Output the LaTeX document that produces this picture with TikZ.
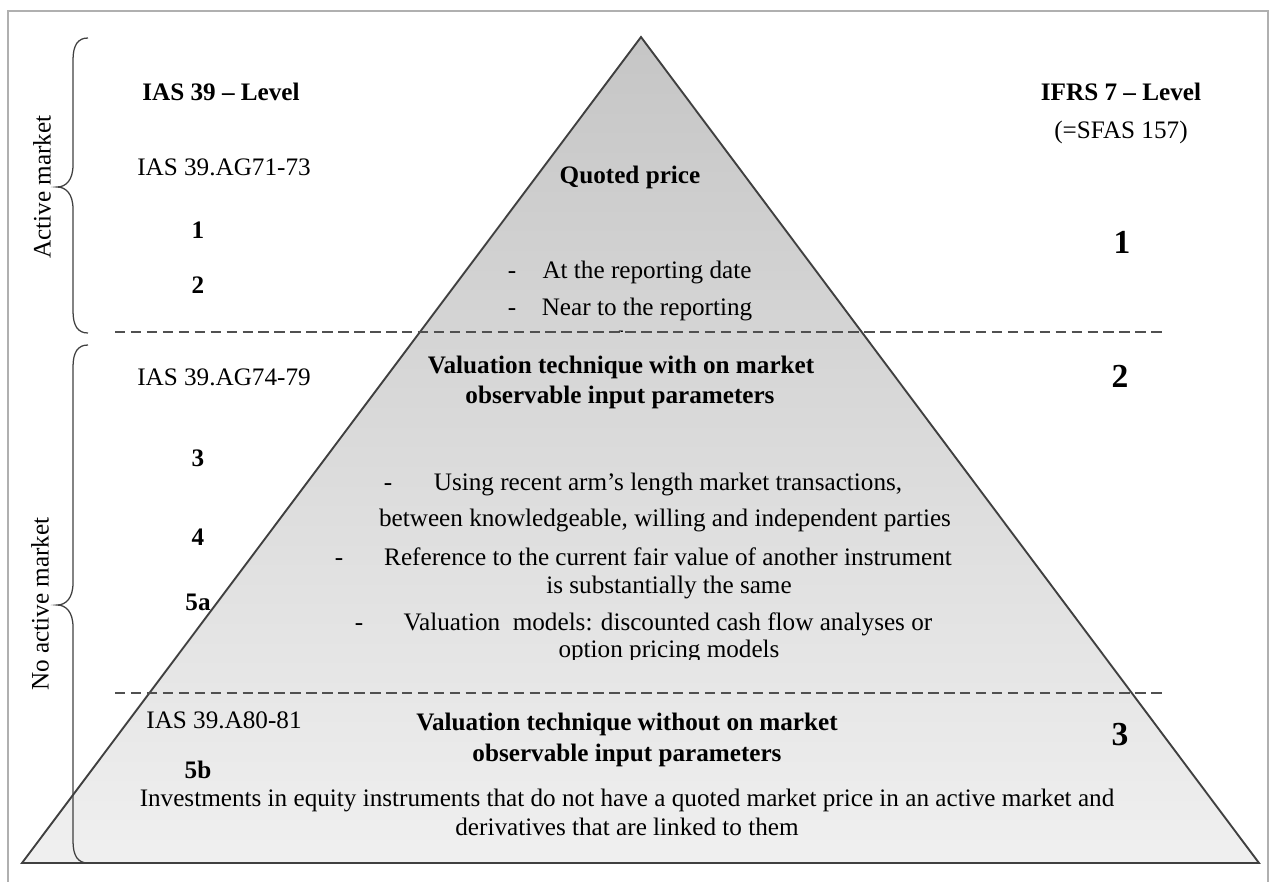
\documentclass[tikz,border=0pt]{standalone}
\usepackage{fontspec}
\setmainfont{Liberation Serif}
\usepackage{tikz}
\definecolor{edgegray}{HTML}{404040}
\definecolor{dashgray}{HTML}{505050}
\definecolor{framegray}{HTML}{B0B0B0}

\begin{document}
\begin{tikzpicture}[
    x=0.01675cm, y=-0.01675cm,
    txt/.style={inner sep=0pt, anchor=base, font=\fontsize{12}{14.4}\selectfont},
    hd/.style={txt, font=\fontsize{12}{14.4}\selectfont\bfseries},
    lvl/.style={txt, font=\fontsize{16}{19}\selectfont\bfseries},
    side/.style={inner sep=0pt, rotate=90, font=\fontsize{12}{14.4}\selectfont},
    sep/.style={dashgray, line width=1pt, dash pattern=on 5pt off 2.6pt},
    brc/.style={edgegray, line width=0.6pt}
  ]
    \useasboundingbox (0,0) rectangle (1270,882);
    \draw[framegray, line width=0.9pt] (8,890) -- (8,11) -- (1268,11) -- (1268,890);

    % pyramid
    \coordinate (apex) at (641,37);
    \coordinate (bl) at (22,863);
    \coordinate (br) at (1259,863);
    \shade[top color=gray!45, bottom color=gray!12] (apex) -- (bl) -- (br) -- cycle;
    \draw[edgegray, line width=0.9pt, line join=miter] (apex) -- (bl) -- (br) -- cycle;

    % level separators
    \coordinate (s1w) at (115,332);
    \coordinate (s1e) at (1165,332);
    \coordinate (s2w) at (115,693);
    \coordinate (s2e) at (1165,693);
    \draw[sep] (s1w) -- (s1e);
    \draw[sep] (s2w) -- (s2e);

    % market braces
    \draw[brc] (88,38) .. controls (78,38) and (73,45) .. (73,60) -- (73,165)
      .. controls (73,180) and (66,187) .. (57,187)
      .. controls (66,187) and (73,194) .. (73,209) -- (73,311)
      .. controls (73,326) and (78,333) .. (88,333);
    \draw[brc] (88,345) .. controls (78,345) and (73,352) .. (73,367) -- (73,583)
      .. controls (73,598) and (66,605) .. (57,605)
      .. controls (66,605) and (73,612) .. (73,627) -- (73,841)
      .. controls (73,856) and (78,863) .. (88,863);
    \node[side] (act) at (42,187) {Active market};
    \node[side] (noact) at (40,604) {No active market};

    % IAS 39 column
    \node[hd] (ias) at (221,100) {IAS 39 – Level};
    \node[txt] (ag71) at (224,175) {IAS 39.AG71-73};
    \node[hd] (n1) at (198,238) {1};
    \node[hd] (n2) at (198,293) {2};
    \node[txt] (ag74) at (224,385) {IAS 39.AG74-79};
    \node[hd] (n3) at (198,466) {3};
    \node[hd] (n4) at (198,545) {4};
    \node[hd] (n5a) at (198,610) {5a};
    \node[txt] (a80) at (224,728) {IAS 39.A80-81};
    \node[hd] (n5b) at (198,778) {5b};

    % IFRS 7 column
    \node[hd] (ifrs) at (1121,100) {IFRS 7 – Level};
    \node[txt] (sfas) at (1121,138) {(=SFAS 157)};
    \node[lvl] (m1) at (1122,253) {1};
    \node[lvl] (m2) at (1120,387) {2};
    \node[lvl] (m3) at (1120,745) {3};

    % level 1
    \node[hd] (quoted) at (630,183) {Quoted price};
    \node[txt] (d11) at (512,278) {-};
    \node[txt] (q1) at (647,278) {At the reporting date};
    \node[txt] (d12) at (512,315) {-};
    \node[txt] (q2) at (647,315) {Near to the reporting};
    \begin{scope}
      \clip (0,0) rectangle (1270,331);
      \node[txt] (q2b) at (633,348) {date};
    \end{scope}

    % level 2
    \node[hd] (obs1) at (621,373) {Valuation technique with on market};
    \node[hd] (obs2) at (620,403) {observable input parameters};
    \node[txt] (d21) at (388,490) {-};
    \node[txt] (t1) at (668,490) {Using recent arm’s length market transactions,};
    \node[txt] (t1b) at (665,526) {between knowledgeable, willing and independent parties};
    \node[txt] (d22) at (339,565) {-};
    \node[txt] (t2) at (668,565) {Reference to the current fair value of another instrument};
    \node[txt] (t2b) at (669,593) {is substantially the same};
    \node[txt] (d23) at (359,630) {-};
    \node[txt] (t3) at (668,630) {Valuation\ \ models: discounted cash flow analyses or};
    \begin{scope}
      \clip (0,0) rectangle (1270,659);
      \node[txt] (t3b) at (669,657) {option pricing models};
    \end{scope}

    % level 3
    \node[hd] (unobs1) at (627,730) {Valuation technique without on market};
    \node[hd] (unobs2) at (627,761) {observable input parameters};
    \node[txt] (eq1) at (627,806) {Investments in equity instruments that do not have a quoted market price in an active market and};
    \node[txt] (eq2) at (627,835) {derivatives that are linked to them};
  \end{tikzpicture}
\end{document}
